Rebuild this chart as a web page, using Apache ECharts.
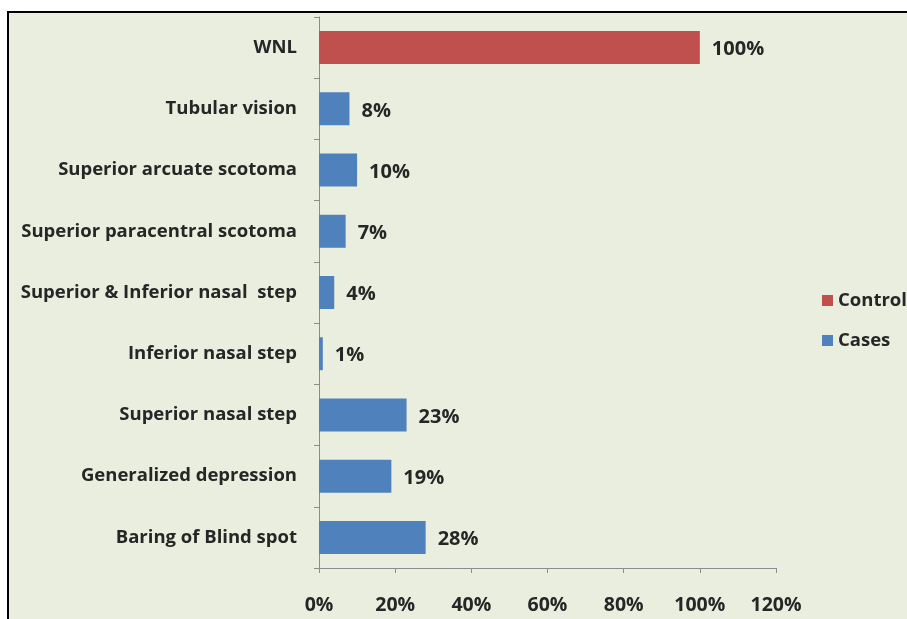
<!DOCTYPE html>
<html>
<head>
<meta charset="utf-8">
<script src="https://cdn.jsdelivr.net/npm/echarts@6/dist/echarts.min.js"></script>
<style>
html,body{margin:0;padding:0;background:#fff;}
#c{width:907px;height:619px;}
</style>
</head>
<body>
<div id="c"></div>
<script>
// Categories listed bottom to top
const categories = ['Baring of Blind spot','Generalized depression','Superior nasal step','Inferior nasal step','Superior & Inferior nasal  step','Superior paracentral scotoma','Superior arcuate scotoma','Tubular vision','WNL'];
const controlValues = [null,null,null,null,null,null,null,null,100];
const casesValues = [28,19,23,1,4,7,10,8,null];
const seriesNames = ['Control','Cases'];
const xTicks = {min:0,max:120,interval:20};

const font = '"Open Sans", Lato, sans-serif';
const chart = echarts.init(document.getElementById('c'));
chart.setOption({
  backgroundColor:'#ffffff',
  animation:false,
  graphic:[{type:'rect',z:-10,shape:{x:8,y:12,width:1000,height:1000},style:{fill:'#e9eedf',stroke:'#000',lineWidth:2}}],
  legend:{
    orient:'vertical', left:817, top:286, itemWidth:11, itemHeight:11, itemGap:21,
    icon:'rect',
    textStyle:{fontFamily:font,fontWeight:'bold',fontSize:18.5,color:'#262626'},
    data:seriesNames
  },
  grid:{left:319,right:131,top:17,bottom:51,containLabel:false},
  xAxis:{
    type:'value', min:xTicks.min, max:xTicks.max, interval:xTicks.interval,
    axisLine:{show:true,lineStyle:{color:'#8c8c8c',width:1}},
    axisTick:{show:true,inside:false,length:5,lineStyle:{color:'#8c8c8c'}},
    splitLine:{show:false},
    axisLabel:{formatter:'{value}%',margin:27,fontFamily:font,fontWeight:'bold',fontSize:19.5,color:'#262626'}
  },
  yAxis:{
    type:'category', data:categories,
    axisLine:{show:true,lineStyle:{color:'#8c8c8c',width:1}},
    axisTick:{show:true,length:5,lineStyle:{color:'#8c8c8c'}},
    axisLabel:{margin:22,fontFamily:font,fontWeight:'bold',fontSize:18.5,color:'#262626'}
  },
  series:[
    {name:'Control',type:'bar',stack:'s',data:controlValues,barWidth:33,
     itemStyle:{color:'#c0504d'},
     label:{show:true,position:'right',distance:12,offset:[0,2],formatter:'{c}%',fontFamily:font,fontWeight:'bold',fontSize:20,color:'#262626'}},
    {name:'Cases',type:'bar',stack:'s',data:casesValues,barWidth:33,
     itemStyle:{color:'#4f81bd'},
     label:{show:true,position:'right',distance:12,offset:[0,2],formatter:'{c}%',fontFamily:font,fontWeight:'bold',fontSize:20,color:'#262626'}}
  ]
});
</script>
</body>
</html>
